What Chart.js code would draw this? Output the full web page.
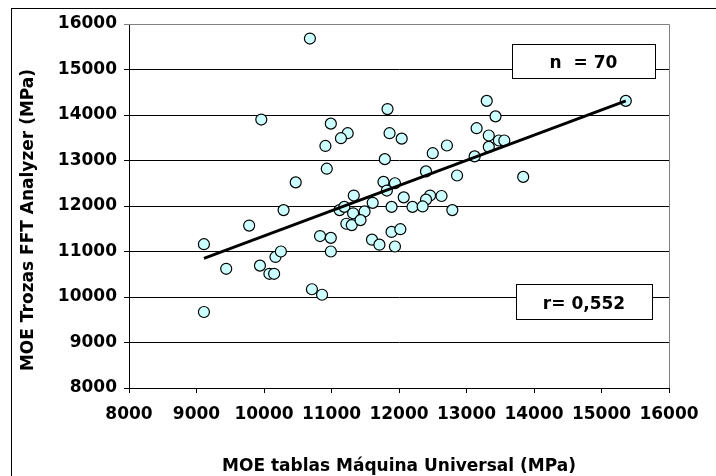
<!DOCTYPE html>
<html>
<head>
<meta charset="utf-8">
<script src="https://cdn.jsdelivr.net/npm/chart.js@4.4.1/dist/chart.umd.min.js"></script>
<style>
    html, body { margin: 0; padding: 0; background: #fff; }
    #wrap { width: 716px; height: 476px; }
</style>
</head>
<body>
<div id="wrap"><canvas id="moeChart" width="716" height="476"></canvas></div>
<script>
// MOE de tablas (máquina universal) vs MOE de trozas (FFT Analyzer), MPa
const moeTablas = [
    10680, 9960, 10990, 11240, 11140, 10910, 10930, 10470, 11330, 10290, 9780,
    11830, 11860, 12040, 11790, 11770, 11940, 11820, 12070,
    12500, 12710, 12400, 12860, 12460, 12400, 12630, 12790,
    13300, 13430, 13150, 13330, 13480, 13560, 13330, 13120, 13840, 15360,
    11120, 11190, 11320, 11490, 11610, 11890, 12200, 12350,
    11220, 11300, 11430, 10830, 10990, 10990, 11600, 11710, 11890, 12020, 11940, 10710, 10860,
    9110, 9440, 9940, 10170, 10250, 10080, 10150, 9110
];
const moeTrozas = [
    15680, 13900, 13810, 13600, 13490, 13320, 12820, 12520, 12230, 11910, 11570,
    14130, 13600, 13480, 13030, 12530, 12500, 12340, 12190,
    13160, 13330, 12760, 12670, 12230, 12140, 12220, 11910,
    14310, 13970, 13710, 13550, 13440, 13440, 13300, 13090, 12640, 14310,
    11910, 11980, 11840, 11880, 12070, 11980, 11980, 11990,
    11610, 11580, 11690, 11340, 11300, 11000, 11260, 11150, 11430, 11490, 11110, 10170, 10050,
    11160, 10620, 10690, 10880, 11000, 10510, 10510, 9670
];

// linea de tendencia (extremos)
const trendX = [9110, 15360];
const trendY = [10850, 14310];

const axisTicks = [8000, 9000, 10000, 11000, 12000, 13000, 14000, 15000, 16000];
const xTitle = 'MOE tablas Máquina Universal (MPa)';
const yTitle = 'MOE Trozas FFT Analyzer (MPa)';
const nLabel = 'n  = 70';
const rLabel = 'r= 0,552';

const FONT = '"DejaVu Sans", Verdana, sans-serif';

const points = moeTablas.map((x, i) => ({ x: x, y: moeTrozas[i] }));
const trend = trendX.map((x, i) => ({ x: x, y: trendY[i] }));

// marco exterior, borde gris del area, titulos y recuadros de texto
const decorations = {
    id: 'decorations',
    beforeDraw(chart) {
        const c = chart.ctx;
        c.save();
        c.strokeStyle = '#000';
        c.lineWidth = 1;
        c.strokeRect(11.5, 8.5, 1200, 1200);
        c.restore();
    },
    afterDatasetsDraw(chart) {
        const c = chart.ctx;
        const a = chart.chartArea;
        c.save();
        c.strokeStyle = '#808080';
        c.lineWidth = 1;
        c.beginPath();
        c.moveTo(a.right + 0.5, a.bottom);
        c.lineTo(a.right + 0.5, a.top + 0.5);
        c.lineTo(a.left, a.top + 0.5);
        c.stroke();

        const box = (x, y, w, h, text, base) => {
            c.fillStyle = '#fff';
            c.fillRect(x, y, w, h);
            c.strokeStyle = '#000';
            c.lineWidth = 1;
            c.strokeRect(x + 0.5, y + 0.5, w, h);
            c.fillStyle = '#000';
            c.font = 'bold 17px ' + FONT;
            c.textAlign = 'center';
            c.textBaseline = 'alphabetic';
            c.fillText(text, x + w / 2, base);
        };
        box(a.right - 157, a.top + 20, 143, 34, nLabel, a.top + 44);
        box(a.right - 153, a.top + 260, 136, 35, rLabel, a.top + 285);

        c.fillStyle = '#000';
        c.font = 'bold 17px ' + FONT;
        c.textAlign = 'center';
        c.textBaseline = 'alphabetic';
        c.fillText(xTitle, (a.left + a.right) / 2, 471);

        c.translate(33, (a.top + a.bottom) / 2 + 14);
        c.rotate(-Math.PI / 2);
        c.fillText(yTitle, 0, 0);
        c.restore();
    }
};

const ctx = document.getElementById('moeChart').getContext('2d');
const moeChart = new Chart(ctx, {
    type: 'scatter',
    data: {
        datasets: [
            {
                label: 'tendencia',
                data: trend,
                showLine: true,
                borderColor: '#000',
                borderWidth: 2.8,
                pointRadius: 0,
                order: 0
            },
            {
                label: 'MOE',
                data: points,
                pointRadius: 5.5,
                pointBorderWidth: 1.2,
                pointBackgroundColor: '#CCFFFF',
                pointBorderColor: '#000',
                order: 1
            }
        ]
    },
    options: {
        responsive: false,
        animation: false,
        devicePixelRatio: 1,
        layout: { padding: { top: 24, right: 47, left: 0, bottom: 0 } },
        plugins: {
            legend: { display: false },
            tooltip: { enabled: false }
        },
        scales: {
            x: {
                type: 'linear',
                min: axisTicks[0],
                max: axisTicks[axisTicks.length - 1],
                afterBuildTicks: (scale) => { scale.ticks = axisTicks.map(v => ({ value: v })); },
                afterFit: (scale) => { scale.height = 88; },
                grid: { drawOnChartArea: false, drawTicks: true, tickLength: 5, color: '#000' },
                border: { color: '#000', width: 1 },
                ticks: {
                    color: '#000',
                    padding: 11,
                    maxRotation: 0,
                    autoSkip: false,
                    font: { family: FONT, size: 17, weight: 'bold' },
                    callback: (v) => String(v)
                }
            },
            y: {
                type: 'linear',
                min: axisTicks[0],
                max: axisTicks[axisTicks.length - 1],
                afterBuildTicks: (scale) => { scale.ticks = axisTicks.map(v => ({ value: v })); },
                afterFit: (scale) => { scale.width = 129; },
                grid: {
                    drawTicks: true,
                    tickLength: 5,
                    lineWidth: 1,
                    color: (c) => (c.tick && c.tick.value === 16000) ? '#808080' : '#000'
                },
                border: { color: '#000', width: 1 },
                ticks: {
                    color: '#000',
                    padding: 7,
                    autoSkip: false,
                    font: { family: FONT, size: 17, weight: 'bold' },
                    callback: (v) => String(v)
                }
            }
        }
    },
    plugins: [decorations]
});
</script>
</body>
</html>
